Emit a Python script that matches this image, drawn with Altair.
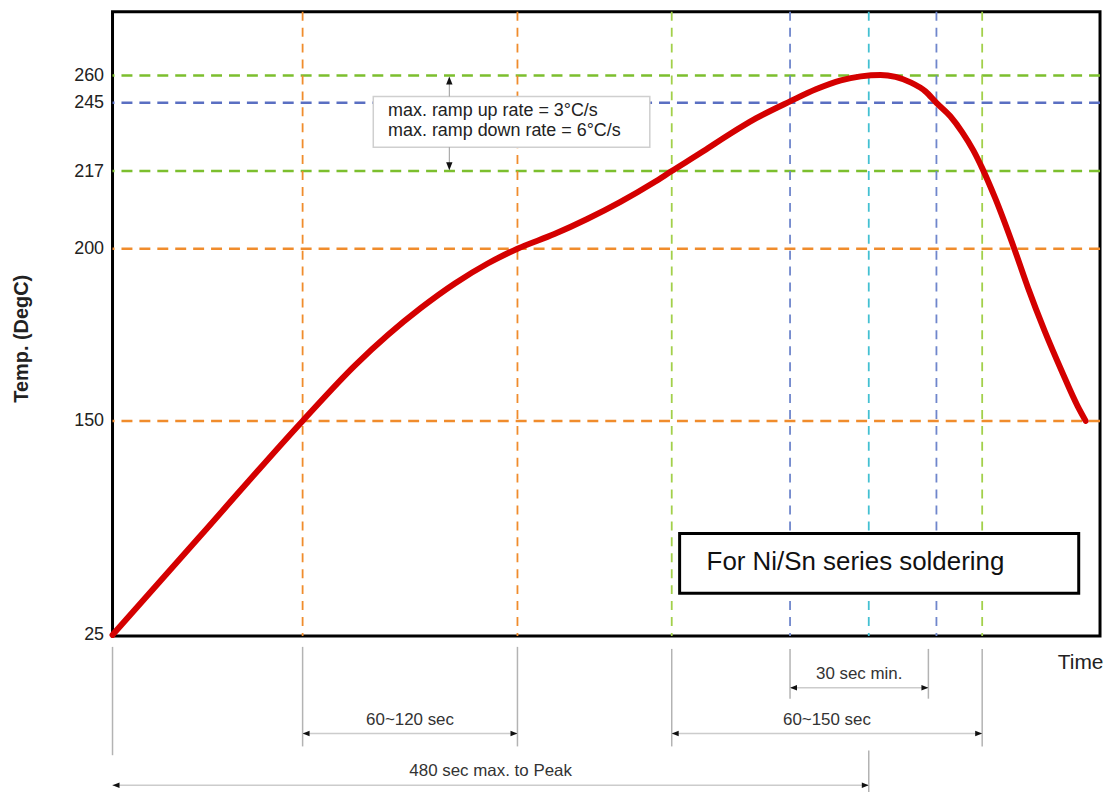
import altair as alt
import pandas as pd

FONT = "Liberation Sans"

# ---------------- data ----------------
CURVE_TIME = [0, 54.9, 120.5, 153.9, 174.7, 195.5, 217.0, 237.8, 256.7, 280.1, 300.9,
              321.7, 343.1, 354.5, 374.7, 391.1, 408.1, 429.5, 445.9, 461.7, 474.3,
              486.9, 496.4, 505.9, 515.3, 522.3, 531.1, 538.7, 545.6, 551.3, 559.5,
              572.1, 580.3, 591.0, 601.7, 611.8, 616.9]
CURVE_TEMP = [25, 82, 150, 166.2, 175.0, 182.8, 189.9, 195.7, 200.0, 203.2, 206.5,
              210.2, 214.5, 217, 225.2, 232.1, 238.7, 245.8, 252.4, 257.3, 259.5,
              260.3, 259.2, 256.2, 251.3, 245.0, 239.5, 232.9, 225.6, 218.2, 211.1,
              199.4, 188.7, 176.0, 164.5, 154.3, 150]

TEMP_TICKS = [25, 150, 200, 217, 245, 260]
TEMP_BREAKS = [25, 150, 200, 217, 245, 260, 295]
TEMP_RANGE = [626, 411, 238, 160, 91.5, 64, 0]
TIME_DOMAIN = [0, 626]

H_TEMP = [260, 245, 217, 200, 150]
H_COLOR = ["#7cbf2e", "#5a6fc2", "#7cbf2e", "#f08c2c", "#f08c2c"]

V_TIME = [120.5, 256.7, 354.5, 429.5, 479.4, 522.3, 551.3]
V_COLOR = ["#f08c2c", "#f08c2c", "#a2d04a", "#6f86cc", "#43c0d2", "#6f86cc", "#a2d04a"]

RAMP_TEXT = ["max. ramp up rate = 3°C/s", "max. ramp down rate = 6°C/s"]
RAMP_TEXT_TIME = [174.7, 174.7]
RAMP_TEXT_TEMP = [241.5, 233.4]
RAMP_BOX_TIME = [165.3, 340.6]
RAMP_BOX_TEMP = [248.5, 226.8]
RAMP_ARROW_TIME = [213.5, 213.5]
RAMP_ARROW_FROM = [248.5, 226.8]
RAMP_ARROW_TO = [258.0, 219.0]

NOTE_TEXT = ["For Ni/Sn series soldering"]
NOTE_TEXT_TIME = [376.6]
NOTE_TEXT_TEMP = [67.4]
NOTE_BOX_TIME = [359.5, 612.5]
NOTE_BOX_TEMP = [84.3, 49.4]

# dimension annotations below the time axis (row levels)
ROW_LEVELS = [0, 1, 2, 3, 4]
ROW_RANGE = [638, 679, 725, 777, 790]
EXT_TIME = [0, 120.5, 256.7, 354.5, 429.5, 517.2, 551.3, 479.4]
EXT_FROM = [0, 0, 0, 0.05, 0.05, 0.05, 0.05, 2.33]
EXT_TO = [2.42, 2.25, 2.25, 2.25, 1.24, 1.24, 2.25, 4]
DIM_LABEL = ["30 sec min.", "60~120 sec", "60~150 sec", "480 sec max. to Peak"]
DIM_START = [429.5, 120.5, 354.5, 0]
DIM_END = [517.2, 256.7, 551.3, 479.4]
DIM_ROW = [1, 2, 2, 3]

# ---------------- scales / axes ----------------
xscale = alt.Scale(domain=TIME_DOMAIN, nice=False, zero=False)
xaxis = alt.Axis(title="Time", labels=False, ticks=False, domain=False, grid=False,
                 titleX=995, titleY=27, titleAlign="right", titleBaseline="middle",
                 titleFont=FONT, titleFontSize=21, titleFontWeight="normal",
                 titleColor="#222")
yscale = alt.Scale(domain=TEMP_BREAKS, range=TEMP_RANGE, nice=False, zero=False)
yaxis = alt.Axis(values=TEMP_TICKS, title="Temp. (DegC)", domain=False, ticks=False,
                 tickSize=0, grid=False, labelFont=FONT, labelFontSize=18,
                 labelColor="#222", labelPadding=9, titleFont=FONT, titleFontSize=20,
                 titleFontWeight="bold", titleColor="#222", titleX=-91, titleY=328,
                 titleBaseline="middle", titleAlign="center")
rowscale = alt.Scale(domain=ROW_LEVELS, range=ROW_RANGE, nice=False, zero=False)


def X(field="t"):
    return alt.X(f"{field}:Q", scale=xscale, axis=xaxis)


def Y(field="temp"):
    return alt.Y(f"{field}:Q", scale=yscale, axis=yaxis)


def R(field="row"):
    return alt.Y(f"{field}:Q", scale=rowscale, axis=None)


# ---------------- main plot layers ----------------
hgrid = alt.Chart(pd.DataFrame({"temp": H_TEMP, "c": H_COLOR})).mark_rule(
    strokeDash=[11, 7], strokeWidth=2.5
).encode(y=Y(), color=alt.Color("c:N", scale=None))

vgrid = alt.Chart(pd.DataFrame({"t": V_TIME, "c": V_COLOR})).mark_rule(
    strokeDash=[9, 7], strokeWidth=1.8
).encode(x=X(), color=alt.Color("c:N", scale=None))

ramp_box = alt.Chart(pd.DataFrame({
    "t": [RAMP_BOX_TIME[0]], "t2": [RAMP_BOX_TIME[1]],
    "temp": [RAMP_BOX_TEMP[0]], "temp2": [RAMP_BOX_TEMP[1]]})).mark_rect(
    fill="white", stroke="#cfcfcf", strokeWidth=1.5
).encode(x=X(), x2="t2:Q", y=Y(), y2="temp2:Q")

ramp_arrow = alt.Chart(pd.DataFrame({
    "t": RAMP_ARROW_TIME, "temp": RAMP_ARROW_FROM, "temp2": RAMP_ARROW_TO})).mark_rule(
    color="#999", strokeWidth=1
).encode(x=X(), y=Y(), y2="temp2:Q")

up_head = alt.Chart(pd.DataFrame({"t": [RAMP_ARROW_TIME[0]], "temp": [259.4]})).mark_point(
    shape="M0,0L-0.8,2L0.8,2Z", filled=True, size=64, color="#111", opacity=1, strokeWidth=0
).encode(x=X(), y=Y())

down_head = alt.Chart(pd.DataFrame({"t": [RAMP_ARROW_TIME[1]], "temp": [217.3]})).mark_point(
    shape="M0,0L-0.8,-2L0.8,-2Z", filled=True, size=64, color="#111", opacity=1, strokeWidth=0
).encode(x=X(), y=Y())

ramp_text = alt.Chart(pd.DataFrame({
    "t": RAMP_TEXT_TIME, "temp": RAMP_TEXT_TEMP, "txt": RAMP_TEXT})).mark_text(
    font=FONT, fontSize=18, align="left", baseline="middle", color="#222"
).encode(x=X(), y=Y(), text="txt:N")

note_box = alt.Chart(pd.DataFrame({
    "t": [NOTE_BOX_TIME[0]], "t2": [NOTE_BOX_TIME[1]],
    "temp": [NOTE_BOX_TEMP[0]], "temp2": [NOTE_BOX_TEMP[1]]})).mark_rect(
    fill="white", stroke="black", strokeWidth=3
).encode(x=X(), x2="t2:Q", y=Y(), y2="temp2:Q")

note_text = alt.Chart(pd.DataFrame({
    "t": NOTE_TEXT_TIME, "temp": NOTE_TEXT_TEMP, "txt": NOTE_TEXT})).mark_text(
    font=FONT, fontSize=26, align="left", baseline="middle", color="#111"
).encode(x=X(), y=Y(), text="txt:N")

curve = alt.Chart(pd.DataFrame({"t": CURVE_TIME, "temp": CURVE_TEMP})).mark_line(
    color="#d40000", strokeWidth=6, interpolate="monotone", strokeCap="round"
).encode(x=X(), y=Y())

main = alt.layer(hgrid, vgrid, ramp_box, ramp_arrow, up_head, down_head, ramp_text,
                 note_box, note_text, curve)

# ---------------- dimension annotations below ----------------
ext = alt.Chart(pd.DataFrame({"t": EXT_TIME, "row": EXT_FROM, "row2": EXT_TO})).mark_rule(
    color="#b3b3b3", strokeWidth=1.5
).encode(x=X(), y=R(), y2="row2:Q")

dims_df = pd.DataFrame({"t": DIM_START, "t2": DIM_END, "row": DIM_ROW, "label": DIM_LABEL})
dims_df["mid"] = (dims_df["t"] + dims_df["t2"]) / 2

dim_lines = alt.Chart(dims_df).mark_rule(color="#cccccc", strokeWidth=1.5).encode(
    x=X(), x2="t2:Q", y=R())

left_heads = alt.Chart(dims_df).mark_point(
    shape="M0,0L2,-0.8L2,0.8Z", filled=True, size=49, color="#111", opacity=1, strokeWidth=0
).encode(x=X("t"), y=R())

right_heads = alt.Chart(dims_df).mark_point(
    shape="M0,0L-2,-0.8L-2,0.8Z", filled=True, size=49, color="#111", opacity=1, strokeWidth=0
).encode(x=X("t2"), y=R())

dim_text = alt.Chart(dims_df).mark_text(
    font=FONT, fontSize=17, align="center", baseline="bottom", dy=-5, color="#333"
).encode(x=X("mid"), y=R(), text="label:N")

bottom = alt.layer(ext, dim_lines, left_heads, right_heads, dim_text)

chart = alt.layer(main, bottom).resolve_scale(y="independent").properties(
    width=992, height=627,
    padding={"left": 105, "top": 2, "right": 4, "bottom": 155},
    autosize=alt.AutoSizeParams(type="none"),
    background="white",
).configure_view(stroke="black", strokeWidth=3, fill="white")

chart.save("out.html", embed_options={"renderer": "svg", "actions": False})
